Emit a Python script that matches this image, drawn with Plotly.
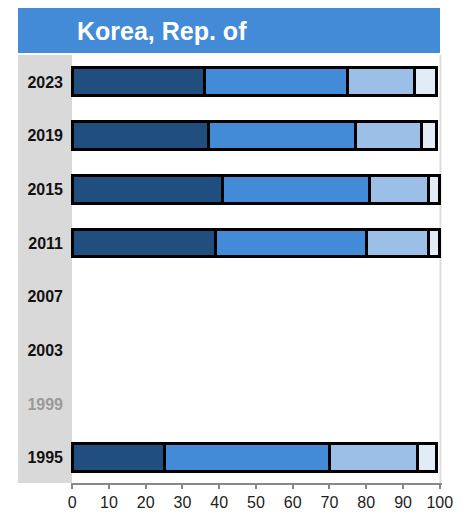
import plotly.graph_objects as go

years = ["2023", "2019", "2015", "2011", "2007", "2003", "1999", "1995"]
seg1 = [36, 37, 41, 39, None, None, None, 25]
seg2 = [39, 40, 40, 41, None, None, None, 45]
seg3 = [18, 18, 16, 17, None, None, None, 24]
seg4 = [6, 4, 3, 3, None, None, None, 5]
colors = ["#1F4E7F", "#438BD6", "#9BBFE7", "#E2ECF7"]
tick_vals = [0, 10, 20, 30, 40, 50, 60, 70, 80, 90, 100]
title = "Korea, Rep. of"
greyed = ["1999"]

fig = go.Figure()
for vals, col in zip([seg1, seg2, seg3, seg4], colors):
    fig.add_trace(go.Bar(
        y=years, x=vals, orientation="h",
        marker=dict(color=col, line=dict(color="#000000", width=3)),
        width=0.52, hoverinfo="skip", showlegend=False,
    ))

ticktext = [f'<span style="color:#999999">{y}</span>' if y in greyed else y for y in years]

W, H = 472, 518
L, R, T, B = 71, 30, 54, 35
pw, ph = W - L - R, H - T - B

def px_x(p):
    return (p - L) / pw

def px_y(p):
    return (H - B - p) / ph

shapes = [
    dict(type="rect", xref="paper", yref="paper", x0=px_x(18), x1=px_x(440),
         y0=px_y(53), y1=px_y(8), fillcolor="#438BD6", line=dict(width=0), layer="below"),
    dict(type="rect", xref="paper", yref="paper", x0=px_x(18), x1=px_x(72),
         y0=px_y(483), y1=px_y(55), fillcolor="#D9D9D9", line=dict(width=0), layer="below"),
    dict(type="line", xref="paper", yref="paper", x0=px_x(440.5), x1=px_x(440.5),
         y0=px_y(483), y1=px_y(55), line=dict(color="#DDDDDD", width=2), layer="below"),
]

xrange = [-0.3, 100.6]

fig.update_layout(
    width=W, height=H,
    margin=dict(l=L, r=R, t=T, b=B, autoexpand=False),
    barmode="stack",
    plot_bgcolor="white", paper_bgcolor="white",
    font=dict(family="Arial, Liberation Sans, sans-serif", color="#222222"),
    shapes=shapes,
    annotations=[dict(text=f"<b>{title}</b>", x=px_x(75), y=px_y(31), xref="paper", yref="paper",
                      xanchor="left", yanchor="middle", showarrow=False,
                      font=dict(size=25, color="white", family="Arial, Liberation Sans, sans-serif"))],
    xaxis=dict(range=xrange, tickvals=tick_vals, showgrid=False, zeroline=False,
               showline=True, linecolor="#888888", linewidth=2, automargin=False,
               ticks="outside", ticklen=4, tickcolor="#888888", tickwidth=2,
               tickfont=dict(size=16, color="#222222"), fixedrange=True),
    xaxis2=dict(range=xrange, tickvals=tick_vals, overlaying="x", side="bottom",
                showgrid=False, zeroline=False, showline=False, automargin=False,
                ticks="inside", ticklen=4, tickcolor="#888888", tickwidth=2,
                showticklabels=False, fixedrange=True),
    yaxis=dict(categoryorder="array", categoryarray=years, tickvals=years, ticktext=ticktext,
               range=[7.47, -0.52], showgrid=False, zeroline=False, showline=False,
               ticks="", ticklabelstandoff=7, automargin=False,
               tickfont=dict(size=16, color="#111111", weight="bold"), fixedrange=True),
)

fig.write_html("out.html", config={"displayModeBar": False},
               post_script="document.body.style.margin='0';document.body.style.overflow='hidden';")
